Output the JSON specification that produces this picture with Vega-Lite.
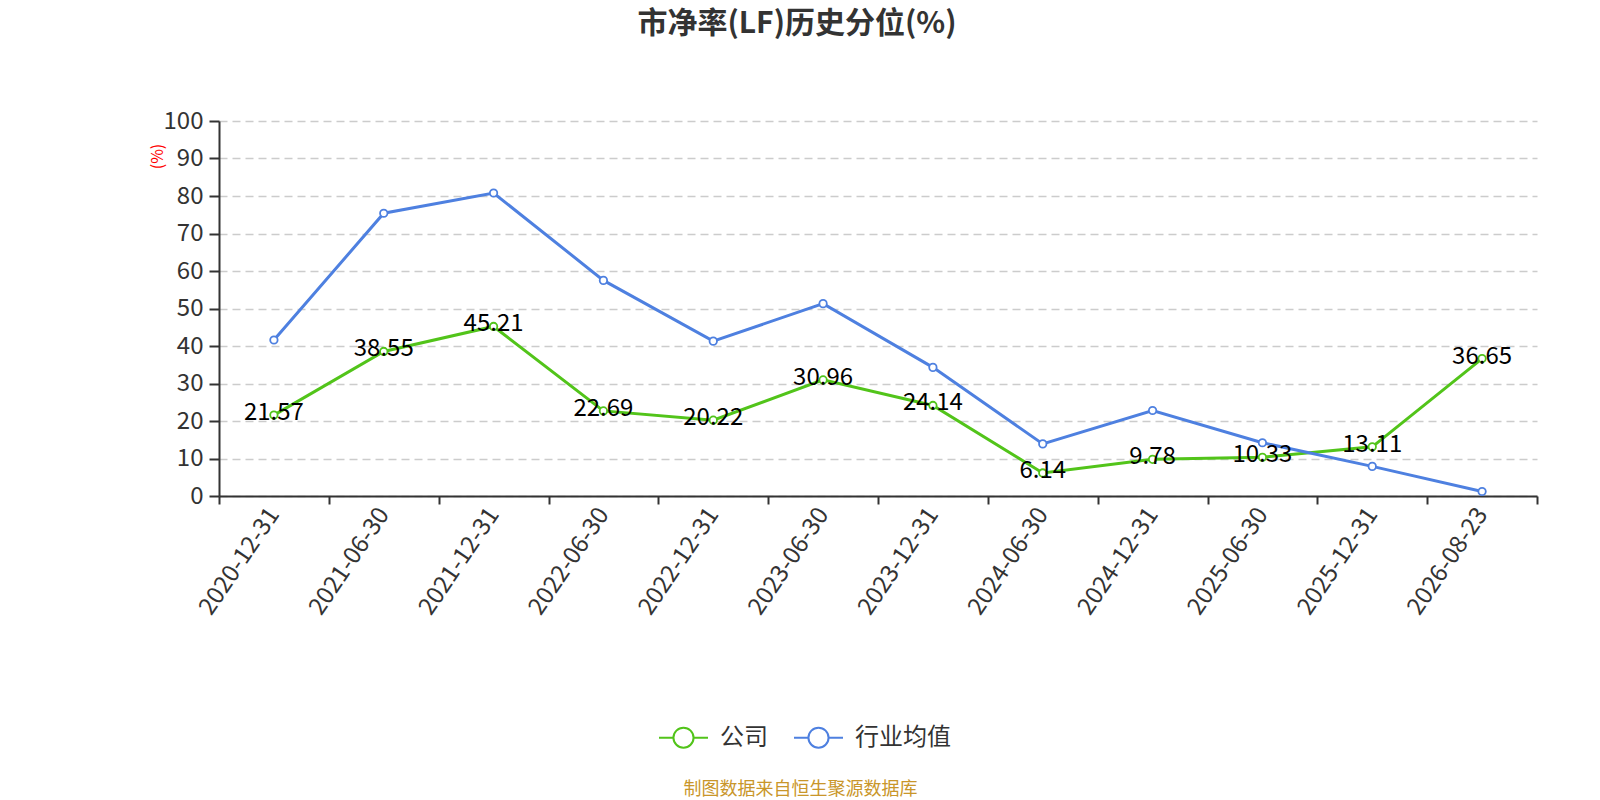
{
  "$schema": "https://vega.github.io/schema/vega-lite/v6.json",
  "width": 1318,
  "height": 375,
  "autosize": {"type": "none"},
  "padding": {"left": 219, "top": 121, "right": 63, "bottom": 304},
  "background": "white",
  "config": {"view": {"stroke": null}},
  "title": {
    "text": "市净率(LF)历史分位(%)",
    "font": "Noto Sans CJK SC",
    "fontSize": 30,
    "fontWeight": "bold",
    "color": "#333333",
    "anchor": "middle",
    "dx": -81,
    "offset": 70
  },
  "data": {
    "values": [
      {"date": "2020-12-31", "series": "公司", "value": 21.57},
      {"date": "2021-06-30", "series": "公司", "value": 38.55},
      {"date": "2021-12-31", "series": "公司", "value": 45.21},
      {"date": "2022-06-30", "series": "公司", "value": 22.69},
      {"date": "2022-12-31", "series": "公司", "value": 20.22},
      {"date": "2023-06-30", "series": "公司", "value": 30.96},
      {"date": "2023-12-31", "series": "公司", "value": 24.14},
      {"date": "2024-06-30", "series": "公司", "value": 6.14},
      {"date": "2024-12-31", "series": "公司", "value": 9.78},
      {"date": "2025-06-30", "series": "公司", "value": 10.33},
      {"date": "2025-12-31", "series": "公司", "value": 13.11},
      {"date": "2026-08-23", "series": "公司", "value": 36.65},
      {"date": "2020-12-31", "series": "行业均值", "value": 41.6},
      {"date": "2021-06-30", "series": "行业均值", "value": 75.4},
      {"date": "2021-12-31", "series": "行业均值", "value": 80.8},
      {"date": "2022-06-30", "series": "行业均值", "value": 57.5},
      {"date": "2022-12-31", "series": "行业均值", "value": 41.3},
      {"date": "2023-06-30", "series": "行业均值", "value": 51.3},
      {"date": "2023-12-31", "series": "行业均值", "value": 34.3},
      {"date": "2024-06-30", "series": "行业均值", "value": 13.9},
      {"date": "2024-12-31", "series": "行业均值", "value": 22.8},
      {"date": "2025-06-30", "series": "行业均值", "value": 14.2},
      {"date": "2025-12-31", "series": "行业均值", "value": 7.9},
      {"date": "2026-08-23", "series": "行业均值", "value": 1.2}
    ]
  },
  "encoding": {
    "x": {
      "field": "date",
      "type": "ordinal",
      "sort": null,
      "bandPosition": 0.5,
      "scale": {"type": "band", "paddingInner": 0, "paddingOuter": 0},
      "axis": {
        "title": "制图数据来自恒生聚源数据库",
        "titleFont": "Noto Sans CJK SC",
        "titleFontSize": 18,
        "titleFontWeight": "normal",
        "titleColor": "#c9962a",
        "titleX": 581,
        "titleY": 293,
        "titleAlign": "center",
        "titleBaseline": "middle",
        "labelAngle": -56,
        "labelAlign": "right",
        "labelBaseline": "middle",
        "labelFont": "Noto Sans CJK SC",
        "labelFontSize": 24,
        "labelColor": "#333333",
        "labelPadding": 6,
        "tickBand": "extent",
        "tickColor": "#333333",
        "tickSize": 8,
        "tickWidth": 2,
        "domainColor": "#333333",
        "domainWidth": 2,
        "grid": false
      }
    },
    "y": {
      "field": "value",
      "type": "quantitative",
      "scale": {"domain": [0, 100], "nice": false},
      "axis": {
        "title": "(%)",
        "titleFont": "Noto Sans CJK SC",
        "titleFontSize": 16,
        "titleFontWeight": "normal",
        "titleColor": "red",
        "titleAngle": -90,
        "titleX": -62,
        "titleY": 35,
        "titleAlign": "center",
        "titleBaseline": "middle",
        "values": [0, 10, 20, 30, 40, 50, 60, 70, 80, 90, 100],
        "labelFont": "Noto Sans CJK SC",
        "labelFontSize": 24,
        "labelColor": "#333333",
        "labelPadding": 6,
        "tickColor": "#333333",
        "tickSize": 10,
        "tickWidth": 2,
        "domainColor": "#333333",
        "domainWidth": 2,
        "grid": true,
        "gridColor": "#cccccc",
        "gridDash": [8, 5],
        "gridWidth": 1.5
      }
    },
    "color": {
      "field": "series",
      "type": "nominal",
      "scale": {"domain": ["公司", "行业均值"], "range": ["#52c41a", "#4e80e0"]},
      "legend": {
        "title": null,
        "orient": "none",
        "direction": "horizontal",
        "legendX": 439,
        "legendY": 591,
        "symbolType": "M-1,0L-0.41,0M0.41,0L1,0M0.41,0A0.41,0.41,0,1,1,-0.41,0A0.41,0.41,0,1,1,0.41,0",
        "symbolSize": 2401,
        "symbolStrokeWidth": 2,
        "symbolFillColor": "white",
        "labelFont": "Noto Sans CJK SC",
        "labelFontSize": 24,
        "labelColor": "#333333",
        "labelOffset": 11,
        "columnPadding": 22
      }
    }
  },
  "layer": [
    {
      "mark": {
        "type": "line",
        "strokeWidth": 3,
        "point": {"filled": false, "fill": "white", "size": 55, "strokeWidth": 1.8}
      }
    },
    {
      "transform": [{"filter": "datum.series === '公司'"}],
      "mark": {
        "type": "text",
        "font": "Noto Sans CJK SC",
        "fontSize": 24,
        "align": "center",
        "baseline": "middle",
        "dy": -2
      },
      "encoding": {
        "text": {"field": "value", "type": "quantitative", "format": ".2f"},
        "color": {"value": "black"}
      }
    }
  ]
}
